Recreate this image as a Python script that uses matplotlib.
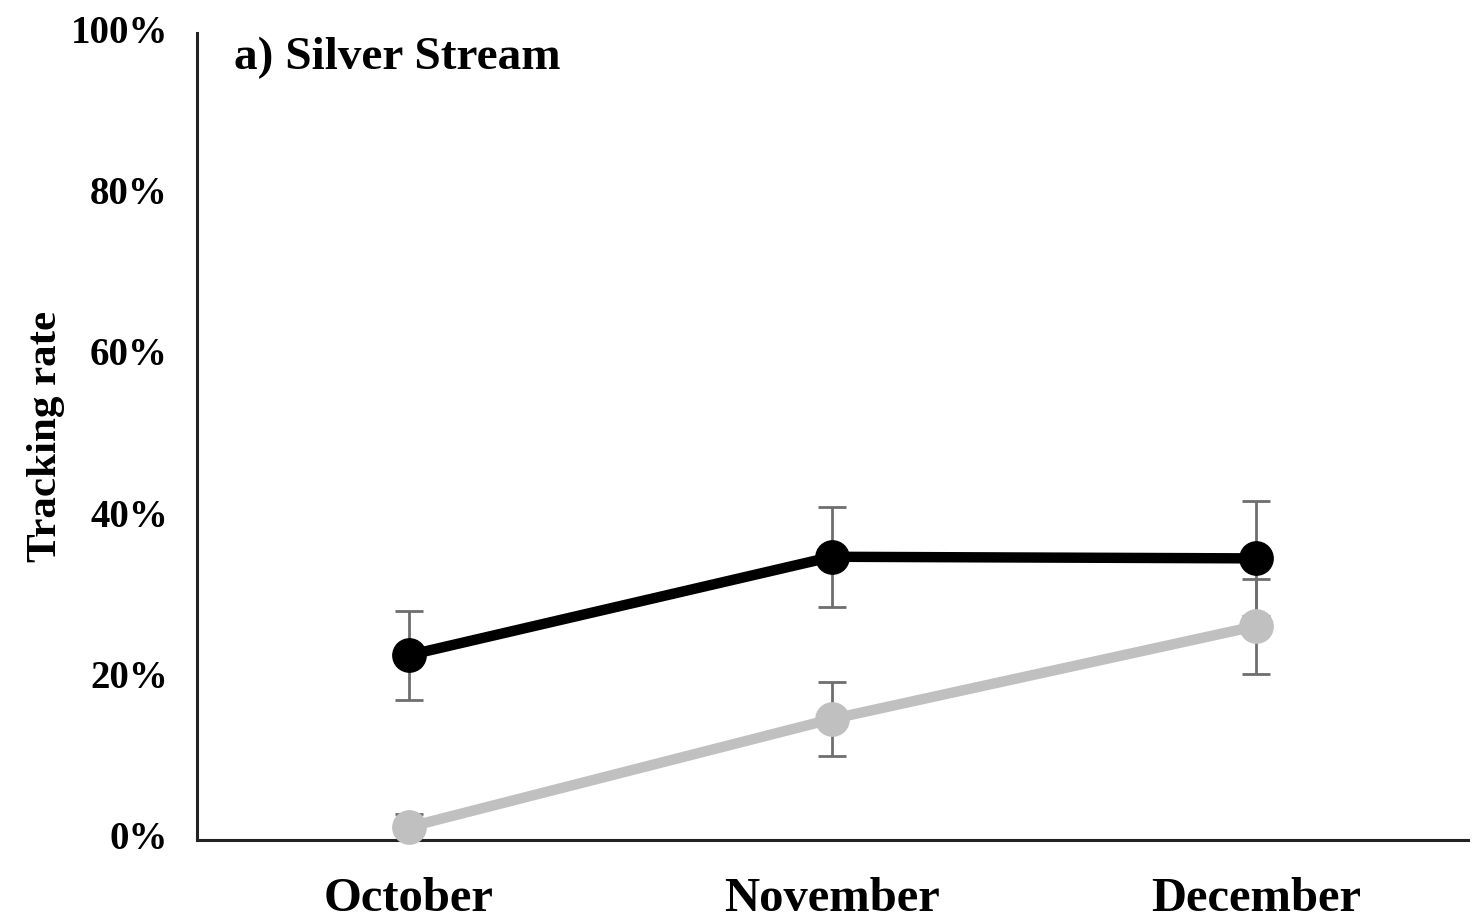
import matplotlib.pyplot as plt

months = ["October", "November", "December"]
black_rate = [22.9, 35.1, 34.9]
black_err = [5.5, 6.2, 7.1]
grey_rate = [1.6, 15.0, 26.5]
grey_err = [1.6, 4.6, 5.9]
yticks = [0, 20, 40, 60, 80, 100]

plt.rcParams["font.family"] = ["Liberation Serif", "DejaVu Serif"]
plt.rcParams["font.weight"] = "bold"

fig = plt.figure(figsize=(14.72, 9.21), dpi=100)
ax = fig.add_axes([0.1338, 0.088, 0.8632, 0.876])

x = [0.5, 1.5, 2.5]

# error bars sit under the lines and markers
ax.errorbar(x, black_rate, yerr=black_err, fmt="none", ecolor="#6e6e6e",
            elinewidth=2, capsize=10, capthick=2, zorder=1)
ax.errorbar(x, grey_rate, yerr=grey_err, fmt="none", ecolor="#6e6e6e",
            elinewidth=2, capsize=10, capthick=2, zorder=1)
ax.plot(x, black_rate, color="black", lw=7.5, marker="o", ms=24, zorder=3,
        clip_on=False)
ax.plot(x, grey_rate, color="#c0c0c0", lw=7.5, marker="o", ms=24, zorder=4,
        clip_on=False)

ax.set_xlim(0, 3)
ax.set_ylim(0, 100)
ax.set_xticks(x)
ax.set_xticklabels(months, fontsize=35, fontweight="bold")
ax.set_yticks(yticks)
ax.set_yticklabels([f"{v}%" for v in yticks], fontsize=28, fontweight="bold",
                   va="center")
ax.tick_params(axis="both", length=0)
ax.tick_params(axis="y", pad=21)
ax.tick_params(axis="x", pad=27)

for s in ["top", "right"]:
    ax.spines[s].set_visible(False)
for s in ["left", "bottom"]:
    ax.spines[s].set_linewidth(2.2)
    ax.spines[s].set_color("#222222")

ax.set_ylabel("Tracking rate", fontsize=31, fontweight="bold")
ax.yaxis.set_label_coords(-0.104, 0.5)
ax.text(0.029, 0.995, "a) Silver Stream", transform=ax.transAxes,
        fontsize=34, fontweight="bold", va="top", ha="left")

fig.savefig("out.png", dpi=100)
